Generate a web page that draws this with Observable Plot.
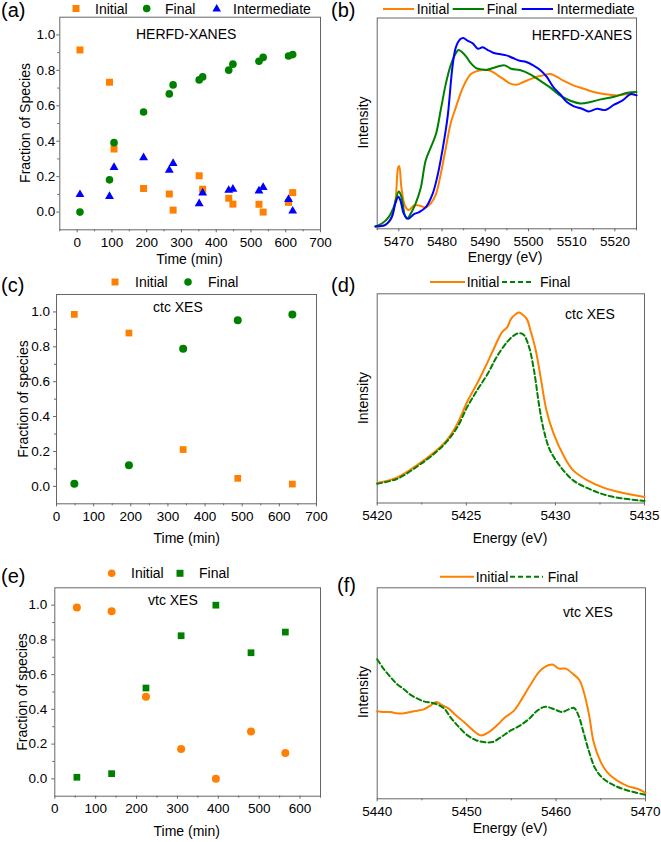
<!DOCTYPE html>
<html>
<head>
<meta charset="utf-8">
<script src="https://cdn.jsdelivr.net/npm/d3@7"></script>
<script src="https://cdn.jsdelivr.net/npm/@observablehq/plot@0.6"></script>
<style>
  body { margin: 0; background: #fff; }
  #fig { position: relative; width: 661px; height: 842px; overflow: hidden; font-family: "Liberation Sans", Arial, sans-serif; }
  #fig svg { position: absolute; left: 0; top: 0; overflow: visible; }
</style>
</head>
<body>
<div id="fig"></div>
<script>
// ---------- (a) HERFD-XANES species fractions ----------
const xanesTime = [8, 93, 106, 191, 265, 276, 351, 361, 436, 448, 523, 535, 608, 620];
const xanesInitial = [0.915, 0.733, 0.356, 0.133, 0.102, 0.011, 0.205, 0.129, 0.078, 0.045, 0.044, 0.0, 0.055, 0.110];
const xanesFinal = [0.0, 0.182, 0.392, 0.565, 0.667, 0.718, 0.746, 0.763, 0.801, 0.835, 0.851, 0.873, 0.881, 0.889];
const xanesIntermediate = [0.099, 0.089, 0.252, 0.307, 0.237, 0.275, 0.048, 0.108, 0.123, 0.129, 0.119, 0.139, 0.072, 0.006];

// ---------- (b) HERFD-XANES reference spectra ----------
const xanesEInitial = [5464.6, 5466.5, 5468, 5469.2, 5469.85, 5470.1, 5470.6, 5471.4, 5472.3, 5473.5, 5474.7, 5476.2, 5477.4, 5478.6, 5479.7, 5480.9, 5482, 5483.2, 5484.4, 5485.6, 5486.7, 5487.9, 5489.4, 5490.6, 5491.8, 5492.9, 5494.1, 5495.7, 5497.2, 5498.8, 5500.3, 5501.9, 5503.4, 5505, 5506.5, 5508.1, 5510.4, 5512.8, 5515.1, 5517.4, 5520.5, 5522.9, 5525];
const xanesIInitial = [0.018, 0.025, 0.06, 0.21, 0.46, 0.47, 0.31, 0.175, 0.14, 0.175, 0.175, 0.16, 0.19, 0.26, 0.41, 0.61, 0.79, 0.91, 1.025, 1.11, 1.16, 1.18, 1.19, 1.19, 1.175, 1.15, 1.125, 1.09, 1.08, 1.1, 1.12, 1.14, 1.15, 1.16, 1.14, 1.11, 1.075, 1.05, 1.025, 1.01, 1.0, 1.01, 1.0];
const xanesEFinal = [5464.6, 5466.1, 5467.7, 5468.8, 5470, 5470.6, 5471.4, 5471.9, 5472.7, 5473.9, 5475.1, 5476.2, 5477.4, 5478.6, 5479.7, 5480.9, 5482, 5483.1, 5483.8, 5484.6, 5485.6, 5486.7, 5487.9, 5489.1, 5490.2, 5491.8, 5493.3, 5494.5, 5496, 5498, 5500.3, 5502.7, 5505, 5507.3, 5509.7, 5512, 5514.3, 5516.7, 5519.8, 5522.9, 5525];
const xanesIFinal = [0.018, 0.04, 0.09, 0.16, 0.28, 0.24, 0.10, 0.075, 0.11, 0.19, 0.31, 0.51, 0.61, 0.71, 0.89, 1.09, 1.225, 1.31, 1.34, 1.325, 1.29, 1.24, 1.205, 1.195, 1.19, 1.205, 1.22, 1.225, 1.2, 1.19, 1.16, 1.11, 1.06, 1.0, 0.96, 0.94, 0.95, 0.97, 0.99, 1.02, 1.025];
const xanesEInter = [5464.6, 5466.9, 5468.4, 5469.2, 5469.9, 5470.4, 5471.2, 5472.2, 5473.5, 5474.7, 5476.2, 5477.8, 5478.9, 5480.1, 5481.3, 5482.4, 5483.2, 5484.2, 5484.9, 5485.9, 5487.1, 5488.3, 5489.4, 5490.6, 5491.8, 5493.3, 5494.9, 5496.4, 5498, 5499.5, 5501.1, 5502.7, 5504.2, 5505.8, 5507.3, 5508.9, 5510.4, 5512.4, 5513.9, 5515.9, 5517.8, 5519.8, 5521.7, 5523.7, 5525];
const xanesIInter = [0.018, 0.03, 0.09, 0.19, 0.24, 0.21, 0.11, 0.075, 0.11, 0.125, 0.16, 0.26, 0.39, 0.59, 0.84, 1.21, 1.36, 1.42, 1.43, 1.41, 1.39, 1.35, 1.36, 1.34, 1.32, 1.31, 1.30, 1.28, 1.26, 1.25, 1.225, 1.19, 1.14, 1.06, 1.01, 0.95, 0.92, 0.90, 0.88, 0.90, 0.89, 0.93, 0.96, 1.01, 1.0];

// ---------- (c) ctc XES species fractions ----------
const ctcTime = [48, 195, 341, 488, 635];
const ctcInitial = [0.986, 0.879, 0.211, 0.046, 0.013];
const ctcFinal = [0.015, 0.121, 0.789, 0.952, 0.986];

// ---------- (d) ctc XES spectra ----------
const ctcEInitial = [5420, 5421.1, 5422.2, 5423.2, 5423.9, 5424.5, 5425.05, 5425.6, 5426.1, 5426.5, 5427, 5427.3, 5427.5, 5427.8, 5427.95, 5428.1, 5428.4, 5428.6, 5428.9, 5429.2, 5429.5, 5429.9, 5430.5, 5431, 5431.8, 5432.7, 5433.8, 5435];
const ctcIInitial = [0.15, 0.19, 0.28, 0.38, 0.47, 0.595, 0.76, 0.895, 1.03, 1.145, 1.28, 1.32, 1.38, 1.42, 1.43, 1.42, 1.38, 1.295, 1.145, 0.92, 0.695, 0.52, 0.345, 0.245, 0.17, 0.115, 0.075, 0.045];
const ctcEFinal = [5420, 5421.1, 5422.2, 5423.2, 5423.9, 5424.5, 5425.05, 5425.6, 5426.2, 5426.7, 5427.3, 5427.7, 5427.95, 5428.2, 5428.5, 5428.8, 5429.1, 5429.35, 5429.7, 5430.3, 5431, 5432, 5433.1, 5435];
const ctcIFinal = [0.145, 0.18, 0.27, 0.37, 0.46, 0.57, 0.72, 0.845, 0.97, 1.095, 1.21, 1.26, 1.275, 1.265, 1.18, 0.995, 0.72, 0.545, 0.395, 0.27, 0.17, 0.10, 0.05, 0.015];

// ---------- (e) vtc XES species fractions ----------
const vtcTime = [54, 139, 223, 309, 394, 480, 564];
const vtcInitial = [0.986, 0.965, 0.473, 0.172, 0.0, 0.272, 0.149];
const vtcFinal = [0.009, 0.030, 0.523, 0.824, 1.0, 0.726, 0.845];

// ---------- (f) vtc XES spectra ----------
const vtcEInitial = [5440, 5440.7, 5441.5, 5442.2, 5443, 5443.7, 5444.5, 5445.2, 5446, 5446.6, 5447.3, 5448, 5448.8, 5449.7, 5450.6, 5451.6, 5452.5, 5453.4, 5454.3, 5455.3, 5456.2, 5457.1, 5458.1, 5458.8, 5459.6, 5460.3, 5461.1, 5461.8, 5462.6, 5463.1, 5463.7, 5464.2, 5465, 5465.7, 5466.8, 5468, 5469.1, 5470];
const vtcIInitial = [0.655, 0.65, 0.65, 0.64, 0.64, 0.65, 0.66, 0.67, 0.70, 0.725, 0.70, 0.675, 0.625, 0.575, 0.52, 0.475, 0.50, 0.55, 0.61, 0.66, 0.75, 0.85, 0.95, 0.99, 1.005, 0.975, 0.975, 0.94, 0.89, 0.80, 0.625, 0.425, 0.275, 0.20, 0.1375, 0.095, 0.075, 0.045];
const vtcEFinal = [5440, 5440.7, 5441.5, 5442.2, 5443, 5443.7, 5444.5, 5445.2, 5446, 5446.6, 5447.5, 5448.2, 5449.1, 5450.1, 5451, 5451.9, 5452.9, 5453.8, 5454.9, 5456, 5457, 5457.9, 5458.8, 5459.8, 5460.7, 5461.4, 5462, 5462.5, 5463.1, 5463.7, 5464.4, 5465.3, 5466.5, 5468, 5470];
const vtcIFinal = [1.045, 0.975, 0.91, 0.86, 0.82, 0.78, 0.75, 0.73, 0.72, 0.71, 0.675, 0.61, 0.54, 0.475, 0.44, 0.425, 0.425, 0.46, 0.51, 0.55, 0.60, 0.66, 0.69, 0.67, 0.65, 0.67, 0.68, 0.625, 0.49, 0.35, 0.225, 0.15, 0.10, 0.0625, 0.03];

// Axis tick values
const fracTicks = [0, 0.2, 0.4, 0.6, 0.8, 1.0];
const fracMinor = [0.1, 0.3, 0.5, 0.7, 0.9];
const timeTicks700 = [0, 100, 200, 300, 400, 500, 600, 700];
const timeMinor700 = [-50, 50, 150, 250, 350, 450, 550, 650];
const timeTicks600 = [0, 100, 200, 300, 400, 500, 600];
const timeMinor600 = [50, 150, 250, 350, 450, 550, 650];
const xanesTicks = [5470, 5480, 5490, 5500, 5510, 5520];
const xanesMinor = [5465, 5475, 5485, 5495, 5505, 5515, 5525];
const ctcTicks = [5420, 5425, 5430, 5435];
const ctcMinor = [5422.5, 5427.5, 5432.5];
const vtcTicks = [5440, 5450, 5460, 5470];
const vtcMinor = [5445, 5455, 5465];

const ORANGE = "#ff8000";
const GREEN = "#008000";
const BLUE = "#0000ff";
const FRAME = "#666";
const W = 661, H = 842;
const FONT = '"Liberation Sans", Arial, sans-serif';
const fig = document.getElementById("fig");

// Build one panel; every plot shares the page coordinate system.
function panel(cfg) {
  const marks = [
    Plot.frame({stroke: FRAME, strokeWidth: 1}),
    Plot.axisX({ticks: cfg.xTicks, tickSize: 3, tickPadding: 4.5, stroke: FRAME, label: null,
      tickFormat: d => String(d)}),
    // minor ticks: tick lines only, no labels
    Plot.axisX({ticks: cfg.xMinor, tickSize: 2, stroke: FRAME, fill: "none", label: null})
  ];
  if (cfg.yTicks) {
    marks.push(
      Plot.axisY({ticks: cfg.yTicks, tickSize: 3, tickPadding: cfg.yPad, stroke: FRAME, label: null,
        tickFormat: d3.format(".1f")}),
      Plot.axisY({ticks: cfg.yMinor, tickSize: 2, stroke: FRAME, fill: "none", label: null})
    );
  } else {
    marks.push(Plot.axisY({ticks: [], label: null}));
  }
  marks.push(...cfg.marks);
  const svg = Plot.plot({
    width: W, height: H,
    marginLeft: cfg.L, marginRight: W - cfg.R, marginTop: cfg.T, marginBottom: H - cfg.B,
    x: {domain: cfg.xDomain},
    y: {domain: cfg.yDomain},
    style: {fontFamily: FONT, fontSize: "13.5px", color: "#000",
      background: "transparent", overflow: "visible"},
    marks
  });
  svg.style.position = "absolute";
  svg.style.left = "0px";
  svg.style.top = "0px";
  fig.appendChild(svg);
  return d3.select(svg);
}

function txt(sel, s, x, y, opts = {}) {
  const t = sel.append("text")
    .attr("x", x).attr("y", y)
    .attr("font-family", FONT)
    .attr("font-size", opts.size || 14)
    .attr("text-anchor", opts.anchor || "start")
    .attr("fill", "#000")
    .text(s);
  if (opts.rotate) {
    t.attr("x", null).attr("y", null)
     .attr("dy", "0.35em")
     .attr("transform", `translate(${x},${y}) rotate(-90)`);
  }
  return t;
}

function symbolKey(sel, type, color, x, y, size) {
  sel.append("path")
    .attr("d", d3.symbol(type, size)())
    .attr("transform", `translate(${x},${y})`)
    .attr("fill", color);
}

function lineKey(sel, color, x1, x2, y, dashed) {
  sel.append("line")
    .attr("x1", x1).attr("x2", x2).attr("y1", y).attr("y2", y)
    .attr("stroke", color).attr("stroke-width", 2)
    .attr("stroke-dasharray", dashed ? "5,3" : null);
}

// ---------------- (a) ----------------
{
  const s = panel({
    L: 59.3, R: 320, T: 16.7, B: 229.3, xDomain: [-50, 700], yDomain: [-0.1, 1.1],
    xTicks: timeTicks700, xMinor: timeMinor700, yTicks: fracTicks, yMinor: fracMinor, yPad: 1.5,
    marks: [
      Plot.dot(xanesTime, {x: xanesTime, y: xanesInitial, symbol: "square", r: 3.95, fill: ORANGE}),
      Plot.dot(xanesTime, {x: xanesTime, y: xanesFinal, symbol: "circle", r: 3.8, fill: GREEN}),
      Plot.dot(xanesTime, {x: xanesTime, y: xanesIntermediate, symbol: "triangle", r: 3.3, fill: BLUE})
    ]
  });
  txt(s, "(a)", 1, 16.5, {size: 20});
  symbolKey(s, d3.symbolSquare, ORANGE, 76, 8.5, 49);
  txt(s, "Initial", 95, 13.5);
  symbolKey(s, d3.symbolCircle, GREEN, 146.7, 8.5, 45);
  txt(s, "Final", 165, 13.5);
  symbolKey(s, d3.symbolTriangle, BLUE, 216.7, 9, 32);
  txt(s, "Intermediate", 233, 13.5);
  txt(s, "HERFD-XANES", 136, 39.3);
  txt(s, "Time (min)", 189.5, 263.5, {anchor: "middle"});
  txt(s, "Fraction of Species", 25, 123, {anchor: "middle", rotate: true});
}

// ---------------- (b) ----------------
{
  const s = panel({
    L: 376.7, R: 636, T: 17.5, B: 228.3, xDomain: [5465, 5525], yDomain: [0, 1.58],
    xTicks: xanesTicks, xMinor: xanesMinor,
    marks: [
      Plot.line(xanesEInitial, {x: xanesEInitial, y: xanesIInitial, stroke: ORANGE, strokeWidth: 2, curve: "catmull-rom"}),
      Plot.line(xanesEFinal, {x: xanesEFinal, y: xanesIFinal, stroke: GREEN, strokeWidth: 2, curve: "catmull-rom"}),
      Plot.line(xanesEInter, {x: xanesEInter, y: xanesIInter, stroke: BLUE, strokeWidth: 2, curve: "catmull-rom"})
    ]
  });
  txt(s, "(b)", 331, 16.5, {size: 20});
  lineKey(s, ORANGE, 383, 414, 9);
  txt(s, "Initial", 416.7, 14);
  lineKey(s, GREEN, 452.7, 484, 9);
  txt(s, "Final", 486.7, 14);
  lineKey(s, BLUE, 521.7, 553, 9);
  txt(s, "Intermediate", 556.7, 14);
  txt(s, "HERFD-XANES", 531.7, 40);
  txt(s, "Energy (eV)", 505, 261.5, {anchor: "middle"});
  txt(s, "Intensity", 363, 122.5, {anchor: "middle", rotate: true});
}

// ---------------- (c) ----------------
{
  const s = panel({
    L: 56, R: 316, T: 294, B: 503.3, xDomain: [0, 700], yDomain: [-0.1, 1.1],
    xTicks: timeTicks700, xMinor: timeMinor700.filter(d => d > 0), yTicks: fracTicks, yMinor: fracMinor, yPad: 3.5,
    marks: [
      Plot.dot(ctcTime, {x: ctcTime, y: ctcInitial, symbol: "square", r: 3.8, fill: ORANGE}),
      Plot.dot(ctcTime, {x: ctcTime, y: ctcFinal, symbol: "circle", r: 4, fill: GREEN})
    ]
  });
  txt(s, "(c)", 1, 291.5, {size: 20});
  symbolKey(s, d3.symbolSquare, ORANGE, 115, 282, 49);
  txt(s, "Initial", 135, 287);
  symbolKey(s, d3.symbolCircle, GREEN, 188, 282, 45);
  txt(s, "Final", 208, 287);
  txt(s, "ctc XES", 153, 312);
  txt(s, "Time (min)", 186.7, 542.5, {anchor: "middle"});
  txt(s, "Fraction of species", 23, 399, {anchor: "middle", rotate: true});
}

// ---------------- (d) ----------------
{
  const s = panel({
    L: 376.7, R: 644, T: 293.3, B: 502.5, xDomain: [5420, 5435], yDomain: [0, 1.57],
    xTicks: ctcTicks, xMinor: ctcMinor,
    marks: [
      Plot.line(ctcEInitial, {x: ctcEInitial, y: ctcIInitial, stroke: ORANGE, strokeWidth: 2, curve: "catmull-rom"}),
      Plot.line(ctcEFinal, {x: ctcEFinal, y: ctcIFinal, stroke: GREEN, strokeWidth: 2, strokeDasharray: "5,3", curve: "catmull-rom"})
    ]
  });
  txt(s, "(d)", 331, 291.5, {size: 20});
  lineKey(s, ORANGE, 430, 465, 282);
  txt(s, "Initial", 466.7, 287);
  lineKey(s, GREEN, 502, 534, 282, true);
  txt(s, "Final", 540, 287);
  txt(s, "ctc XES", 565, 319);
  txt(s, "Energy (eV)", 510, 542.5, {anchor: "middle"});
  txt(s, "Intensity", 363, 398, {anchor: "middle", rotate: true});
}

// ---------------- (e) ----------------
{
  const s = panel({
    L: 54.3, R: 320, T: 587.3, B: 795.7, xDomain: [0, 650], yDomain: [-0.1, 1.1],
    xTicks: timeTicks600, xMinor: timeMinor600, yTicks: fracTicks, yMinor: fracMinor, yPad: 4.5,
    marks: [
      Plot.dot(vtcTime, {x: vtcTime, y: vtcInitial, symbol: "circle", r: 4, fill: ORANGE}),
      Plot.dot(vtcTime, {x: vtcTime, y: vtcFinal, symbol: "square", r: 3.8, fill: GREEN})
    ]
  });
  txt(s, "(e)", 1, 582.5, {size: 20});
  symbolKey(s, d3.symbolCircle, ORANGE, 111.7, 573.3, 45);
  txt(s, "Initial", 131, 578.3);
  symbolKey(s, d3.symbolSquare, GREEN, 180, 573.3, 49);
  txt(s, "Final", 199, 578.3);
  txt(s, "vtc XES", 148, 605);
  txt(s, "Time (min)", 186.7, 835.5, {anchor: "middle"});
  txt(s, "Fraction of species", 21.7, 692, {anchor: "middle", rotate: true});
}

// ---------------- (f) ----------------
{
  const s = panel({
    L: 376.7, R: 645, T: 587.3, B: 798.3, xDomain: [5440, 5470], yDomain: [0, 1.58],
    xTicks: vtcTicks, xMinor: vtcMinor,
    marks: [
      Plot.line(vtcEInitial, {x: vtcEInitial, y: vtcIInitial, stroke: ORANGE, strokeWidth: 2, curve: "catmull-rom"}),
      Plot.line(vtcEFinal, {x: vtcEFinal, y: vtcIFinal, stroke: GREEN, strokeWidth: 2, strokeDasharray: "5,3", curve: "catmull-rom"})
    ]
  });
  txt(s, "(f)", 337, 592, {size: 20});
  lineKey(s, ORANGE, 440, 474, 576.7);
  txt(s, "Initial", 475.7, 581.7);
  lineKey(s, GREEN, 510, 543, 576.7, true);
  txt(s, "Final", 547.7, 581.7);
  txt(s, "vtc XES", 563, 616.5);
  txt(s, "Energy (eV)", 510, 833, {anchor: "middle"});
  txt(s, "Intensity", 363, 692, {anchor: "middle", rotate: true});
}
</script>
</body>
</html>
